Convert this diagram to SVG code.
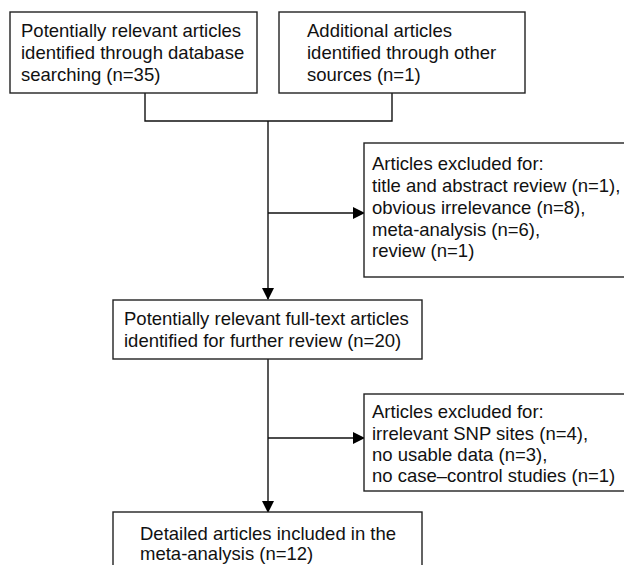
<svg xmlns="http://www.w3.org/2000/svg" width="624" height="565" viewBox="0 0 624 565">
<defs>
<marker id="ah" markerWidth="12" markerHeight="12" refX="11" refY="6" orient="auto" markerUnits="userSpaceOnUse">
<path d="M0,0 L12,6 L0,12 Z" fill="#000"/>
</marker>
<style>
.box{fill:#fff;stroke:#222;stroke-width:1.4}
.t{font-family:"Liberation Sans",Arial,sans-serif;font-size:18.5px;fill:#111}
.c{fill:none;stroke:#111;stroke-width:1.4}
</style>
</defs>
<rect width="624" height="565" fill="#fff"/>
<g id="connectors">
<path class="c" d="M145,93 V121 H392 V93"/>
<path class="c" d="M268,121 V299" marker-end="url(#ah)"/>
<path class="c" d="M268,213 H364" marker-end="url(#ah)"/>
<path class="c" d="M268,359 V512" marker-end="url(#ah)"/>
<path class="c" d="M268,438 H364" marker-end="url(#ah)"/>
</g>
<g id="n1">
<rect class="box" x="10" y="12" width="247" height="81"/>
<text class="t" x="21" y="37">Potentially relevant articles</text>
<text class="t" x="21" y="59">identified through database</text>
<text class="t" x="21" y="81">searching (n=35)</text>
</g>
<g id="n2">
<rect class="box" x="279" y="12" width="246" height="81"/>
<text class="t" x="307" y="37">Additional articles</text>
<text class="t" x="307" y="59">identified through other</text>
<text class="t" x="307" y="81">sources (n=1)</text>
</g>
<g id="n3">
<rect class="box" x="364" y="143" width="270" height="134"/>
<text class="t" x="372" y="170">Articles excluded for:</text>
<text class="t" x="372" y="192">title and abstract review (n=1),</text>
<text class="t" x="372" y="214">obvious irrelevance (n=8),</text>
<text class="t" x="372" y="235.5">meta-analysis (n=6),</text>
<text class="t" x="372" y="257">review (n=1)</text>
</g>
<g id="n4">
<rect class="box" x="113" y="300" width="309" height="59"/>
<text class="t" x="124" y="325">Potentially relevant full-text articles</text>
<text class="t" x="124" y="347">identified for further review (n=20)</text>
</g>
<g id="n5">
<rect class="box" x="364" y="394" width="270" height="97"/>
<text class="t" x="372" y="418">Articles excluded for:</text>
<text class="t" x="372" y="439.5">irrelevant SNP sites (n=4),</text>
<text class="t" x="372" y="461">no usable data (n=3),</text>
<text class="t" x="372" y="482">no case–control studies (n=1)</text>
</g>
<g id="n6">
<rect class="box" x="113" y="512" width="309" height="70"/>
<text class="t" x="140" y="540">Detailed articles included in the</text>
<text class="t" x="140" y="560">meta-analysis (n=12)</text>
</g>
</svg>
